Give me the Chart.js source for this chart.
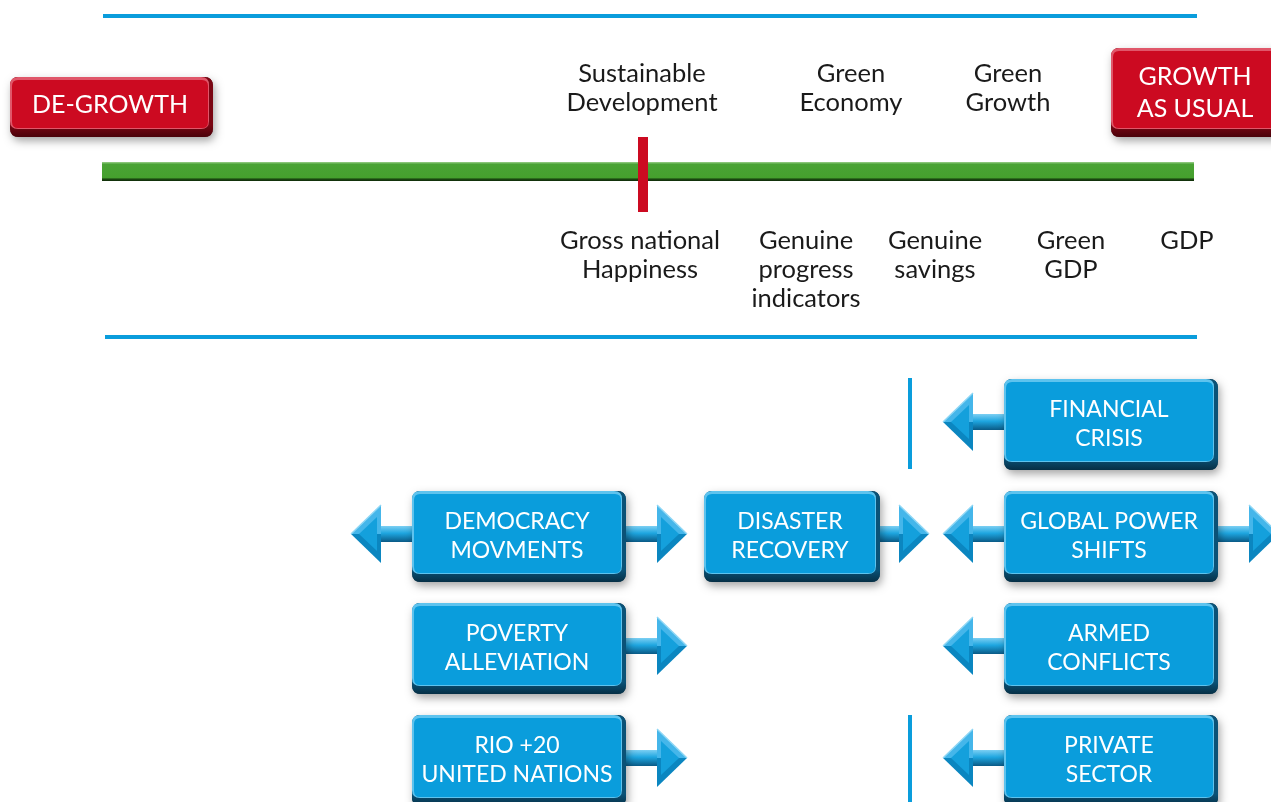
<!DOCTYPE html>
<html>
<head>
<meta charset="utf-8">
<script src="https://cdn.jsdelivr.net/npm/chart.js@4.4.1/dist/chart.umd.min.js"></script>
<style>
  html, body { margin: 0; padding: 0; background: #fff; overflow: hidden; }
  canvas { display: block; }
</style>
</head>
<body>
<canvas id="diagram" width="1271" height="802"></canvas>
<script>
// spectrum: from de-growth to growth as usual
const spectrumEnds = ['DE-GROWTH', 'GROWTH\nAS USUAL'];
const approaches = ['Sustainable\nDevelopment', 'Green\nEconomy', 'Green\nGrowth'];
const approachPos = [642, 851, 1008];
const measures = ['Gross national\nHappiness', 'Genuine\nprogress\nindicators', 'Genuine\nsavings', 'Green\nGDP', 'GDP'];
const measurePos = [640, 806, 935, 1071, 1187];
const markerPos = [643]; // where the red marker sits on the spectrum

// drivers (lower part)
const drivers = [
  'FINANCIAL\nCRISIS', 'DEMOCRACY\nMOVMENTS', 'DISASTER\nRECOVERY', 'GLOBAL POWER\nSHIFTS',
  'POVERTY\nALLEVIATION', 'ARMED\nCONFLICTS', 'RIO +20\nUNITED NATIONS', 'PRIVATE\nSECTOR'
];
const driverCol = [2, 0, 1, 2, 0, 2, 0, 2];
const driverRow = [0, 1, 1, 1, 2, 2, 3, 3];
const driverArrows = ['L', 'LR', 'R', 'LR', 'R', 'L', 'R', 'L'];

// layout (in scale units)
const colLeft = [412, 704, 1004];
const colWidth = [214, 176, 214];
const arrowLen = [61, 49, 61];
const rowTop = [379, 491, 603, 715];
const boxH = 91;

const FONT = 'Lato, "Open Sans", sans-serif';
const BLUE = { face: '#0a9ddc', light: '#5ec3ee', dark: '#0a5277', darker: '#062f45' };
const RED = { face: '#cc0a21', light: '#e0576a', dark: '#7a0613', darker: '#4a020a' };

function rr(ctx, x, y, w, h, r) {
  ctx.beginPath();
  ctx.moveTo(x + r, y);
  ctx.lineTo(x + w - r, y);
  ctx.quadraticCurveTo(x + w, y, x + w, y + r);
  ctx.lineTo(x + w, y + h - r);
  ctx.quadraticCurveTo(x + w, y + h, x + w - r, y + h);
  ctx.lineTo(x + r, y + h);
  ctx.quadraticCurveTo(x, y + h, x, y + h - r);
  ctx.lineTo(x, y + r);
  ctx.quadraticCurveTo(x, y, x + r, y);
  ctx.closePath();
}

function drawButton(ctx, x, y, w, h, pal) {
  ctx.save();
  // soft drop shadow
  ctx.shadowColor = 'rgba(0,0,0,0.35)';
  ctx.shadowBlur = 8;
  ctx.shadowOffsetX = 2;
  ctx.shadowOffsetY = 4;
  rr(ctx, x, y, w, h, 9);
  ctx.fillStyle = pal.darker;
  ctx.fill();
  ctx.restore();
  // dark base (bottom/right bevel)
  const g = ctx.createLinearGradient(0, y + h - 12, 0, y + h);
  g.addColorStop(0, pal.dark);
  g.addColorStop(1, pal.darker);
  rr(ctx, x, y, w, h, 9);
  ctx.fillStyle = g;
  ctx.fill();
  // light bevel
  rr(ctx, x, y, w - 4, h - 8, 8);
  ctx.fillStyle = pal.light;
  ctx.fill();
  // face
  rr(ctx, x + 2, y + 3, w - 7, h - 12, 6);
  ctx.fillStyle = pal.face;
  ctx.fill();
}

function drawArrow(ctx, from, tip, cy) {
  const dir = tip > from ? 1 : -1;
  const headLen = 30, headH = 29, shaft = 8;
  const base = tip - dir * headLen;
  // shaft
  const gs = ctx.createLinearGradient(0, cy - shaft, 0, cy + shaft);
  gs.addColorStop(0, '#7ccff3');
  gs.addColorStop(0.45, '#1ea6e0');
  gs.addColorStop(1, '#0a5a86');
  ctx.fillStyle = gs;
  ctx.fillRect(Math.min(from, base), cy - shaft, Math.abs(base - from) + 1, shaft * 2);
  // head: upper facet light, lower facet dark
  ctx.beginPath();
  ctx.moveTo(tip, cy);
  ctx.lineTo(base, cy - headH);
  ctx.lineTo(base, cy);
  ctx.closePath();
  ctx.fillStyle = '#45b6ea';
  ctx.fill();
  ctx.beginPath();
  ctx.moveTo(tip, cy);
  ctx.lineTo(base, cy + headH);
  ctx.lineTo(base, cy);
  ctx.closePath();
  ctx.fillStyle = '#0b86c0';
  ctx.fill();
  // inner facet
  ctx.beginPath();
  ctx.moveTo(tip - dir * 8, cy);
  ctx.lineTo(base + dir * 4, cy - headH + 12);
  ctx.lineTo(base + dir * 4, cy + headH - 12);
  ctx.closePath();
  ctx.fillStyle = '#14a0dc';
  ctx.fill();
  // light edge on upper side
  ctx.beginPath();
  ctx.moveTo(tip, cy);
  ctx.lineTo(base, cy - headH);
  ctx.strokeStyle = '#8fd7f5';
  ctx.lineWidth = 1.5;
  ctx.stroke();
}

function multiline(ctx, text, x, y, lh) {
  text.split('\n').forEach((line, i) => ctx.fillText(line, x, y + i * lh));
}

const diagramPlugin = {
  id: 'diagram',
  beforeDatasetsDraw(chart) {
    const ctx = chart.ctx;
    const xs = chart.scales.x, ys = chart.scales.y;
    const px = v => xs.getPixelForValue(v);
    const py = v => ys.getPixelForValue(v);
    ctx.save();

    // blue separators
    ctx.fillStyle = '#0a9ddc';
    ctx.fillRect(px(103), py(14), px(1197) - px(103), 4);
    ctx.fillRect(px(105), py(335), px(1197) - px(105), 4);

    // green spectrum bar
    const gy0 = py(162), gy1 = py(181);
    const gg = ctx.createLinearGradient(0, gy0, 0, gy1);
    gg.addColorStop(0, '#9ccf8c');
    gg.addColorStop(0.12, '#4aa335');
    gg.addColorStop(0.82, '#45a02e');
    gg.addColorStop(0.9, '#1c4a12');
    gg.addColorStop(1, '#0f2a08');
    ctx.fillStyle = gg;
    ctx.fillRect(px(102), gy0, px(1194) - px(102), gy1 - gy0);

    // red marker
    ctx.fillStyle = '#cc0a21';
    markerPos.forEach(m => ctx.fillRect(px(m) - 5, py(137), 10, py(212) - py(137)));

    // spectrum end buttons
    drawButton(ctx, px(10), py(77), 203, 60, RED);
    drawButton(ctx, px(1111), py(48), 175, 89, RED);
    ctx.fillStyle = '#fff';
    ctx.textAlign = 'center';
    ctx.textBaseline = 'middle';
    ctx.font = '25px ' + FONT;
    multiline(ctx, spectrumEnds[0], px(110), py(105), 30);
    multiline(ctx, spectrumEnds[1], px(1195), py(77), 32);

    // approaches above the bar, measures below
    ctx.fillStyle = '#1a1a1a';
    ctx.font = '25.5px ' + FONT;
    approaches.forEach((t, i) => multiline(ctx, t, px(approachPos[i]), py(74), 29));
    measures.forEach((t, i) => multiline(ctx, t, px(measurePos[i]), py(241), 29));

    // vertical blue dividers
    ctx.fillStyle = '#0a9ddc';
    ctx.fillRect(px(908), py(378), 4, py(469) - py(378));
    ctx.fillRect(px(908), py(715), 4, py(802) - py(715));

    // driver boxes with arrows
    drivers.forEach((t, i) => {
      const c = driverCol[i], r = driverRow[i];
      const x0 = px(colLeft[c]), x1 = px(colLeft[c] + colWidth[c]);
      const top = py(rowTop[r]);
      const cy = top + 43;
      const a = driverArrows[i];
      if (a.includes('L')) drawArrow(ctx, x0 + 4, x0 - arrowLen[c], cy);
      if (a.includes('R')) drawArrow(ctx, x1 - 6, x1 + arrowLen[c], cy);
      drawButton(ctx, x0, top, x1 - x0, boxH, BLUE);
      ctx.fillStyle = '#fff';
      ctx.font = '23px ' + FONT;
      multiline(ctx, t, (x0 + x1) / 2 - 2, top + 31, 29);
    });

    ctx.restore();
  }
};

new Chart(document.getElementById('diagram'), {
  type: 'scatter',
  data: { datasets: [{ data: [], pointRadius: 0 }] },
  options: {
    responsive: false,
    animation: false,
    devicePixelRatio: 1,
    layout: { padding: 0 },
    plugins: { legend: { display: false }, tooltip: { enabled: false } },
    scales: {
      x: { type: 'linear', min: 0, max: 1271, display: false },
      y: { type: 'linear', min: 0, max: 802, reverse: true, display: false }
    }
  },
  plugins: [diagramPlugin]
});
</script>
</body>
</html>
